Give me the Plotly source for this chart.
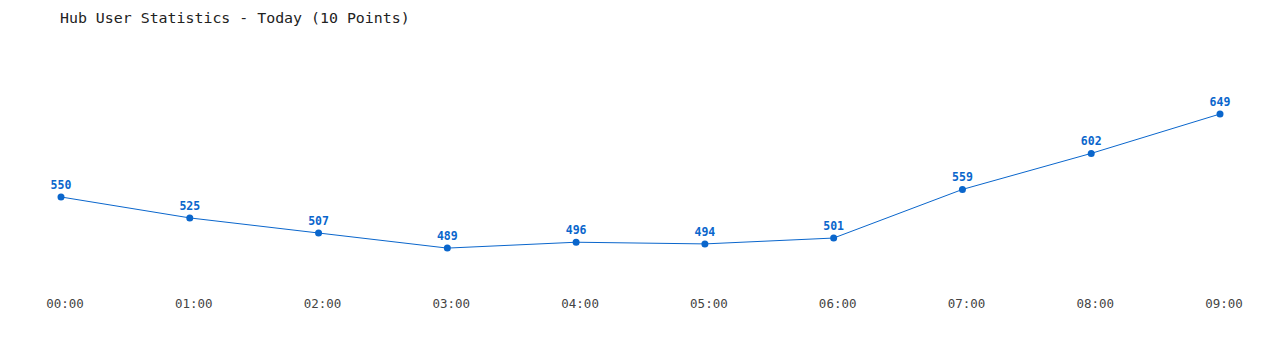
import plotly.graph_objects as go

hours = ["00:00", "01:00", "02:00", "03:00", "04:00", "05:00", "06:00", "07:00", "08:00", "09:00"]
users = [550, 525, 507, 489, 496, 494, 501, 559, 602, 649]
title_text = "Hub User Statistics - Today (10 Points)"

idx = list(range(len(hours)))
blue = "#0a66cc"

fig = go.Figure()
fig.add_trace(go.Scatter(
    x=idx, y=users, mode="lines+markers+text",
    line=dict(color=blue, width=1),
    marker=dict(color=blue, size=7),
    text=[str(v) for v in users], textposition="top center",
    textfont=dict(family="DejaVu Sans Mono", size=11.5, color=blue, weight="bold"),
    hoverinfo="skip", cliponaxis=False,
))

fig.update_layout(
    width=1280, height=350,
    margin=dict(l=61, r=60, t=40, b=60),
    paper_bgcolor="white", plot_bgcolor="white",
    showlegend=False,
    title=dict(text=title_text, x=60/1280, xanchor="left", y=1-18/350, yanchor="middle",
               font=dict(family="DejaVu Sans Mono", size=14.9, color="#222")),
    xaxis=dict(range=[0, 9], tickvals=idx, ticktext=hours, showgrid=False, zeroline=False,
               showline=False, ticks="outside", ticklen=2, tickcolor="white",
               ticklabelshift=4,
               tickfont=dict(family="DejaVu Sans Mono", size=12.5, color="#444")),
    yaxis=dict(range=[439, 737.3], visible=False, showgrid=False, zeroline=False),
)

fig.write_html("out.html")
